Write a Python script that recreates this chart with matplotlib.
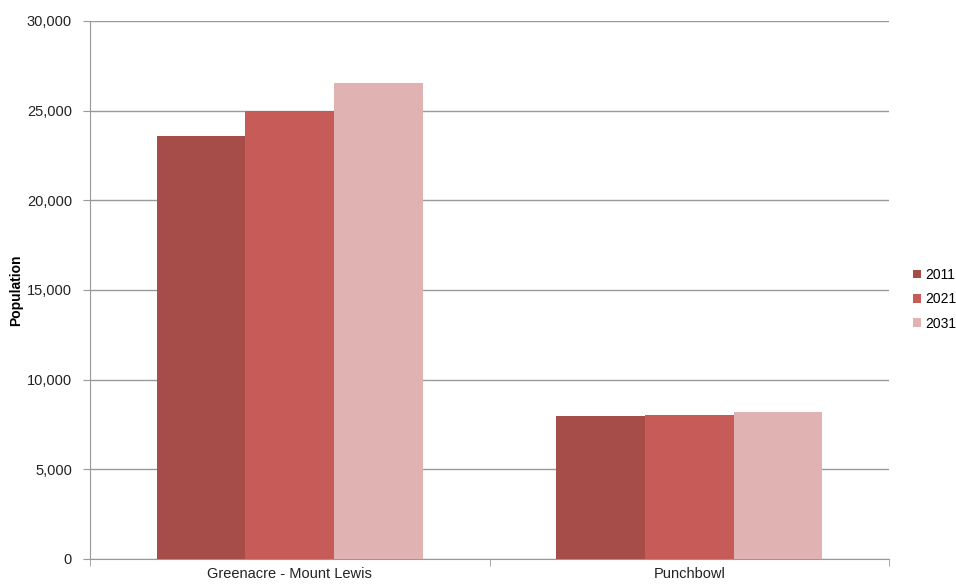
import numpy as np
import matplotlib.pyplot as plt
from matplotlib.ticker import FuncFormatter

plt.rcParams['font.family'] = ['Liberation Sans', 'DejaVu Sans']

areas = ['Greenacre - Mount Lewis', 'Punchbowl']
years = ['2011', '2021', '2031']
pop_2011 = [23570, 7950]
pop_2021 = [25000, 8010]
pop_2031 = [26560, 8200]
colors = ['#A64D4A', '#C65B57', '#E0B2B1']

fig = plt.figure(figsize=(9.56, 5.88), dpi=100)
ax = fig.add_axes([90/956, 29/588, 799/956, 538/588])

x = np.arange(len(areas))
w = 0.222
for i, (vals, c) in enumerate(zip([pop_2011, pop_2021, pop_2031], colors)):
    ax.bar(x + (i - 1) * w, vals, width=w, color=c, label=years[i], zorder=3)

ax.set_xlim(-0.5, 1.5)
ax.set_ylim(0, 30000)
ax.set_yticks(np.arange(0, 30001, 5000))
ax.yaxis.set_major_formatter(FuncFormatter(lambda v, p: f'{int(v):,}'))
ax.set_xticks(x)
ax.set_xticklabels(areas)
ax.set_xticks([-0.5, 0.5, 1.5], minor=True)
ax.tick_params(axis='x', which='major', length=0, pad=6, labelsize=10.5, labelcolor='#222222')
ax.tick_params(axis='x', which='minor', length=5, color='#999999', direction='out')
ax.tick_params(axis='y', length=5, color='#999999', labelsize=10.5, labelcolor='#222222', pad=8)

ax.grid(axis='y', color='#999999', linewidth=1, zorder=0)
for s in ['top', 'right']:
    ax.spines[s].set_visible(False)
for s in ['left', 'bottom']:
    ax.spines[s].set_color('#999999')

ax.set_ylabel('Population', fontsize=10, fontweight='bold')
ax.yaxis.set_label_coords(-67/799, 0.5)

# legend sits at the right edge, nudged in so the labels are not clipped
fig.legend(loc='upper left', bbox_to_anchor=(906/956, 1 - 261/588), frameon=False,
           handlelength=0.6, handleheight=0.6, handletextpad=0.3, labelspacing=0.75,
           fontsize=10, borderpad=0)

fig.savefig('out.png', dpi=100)
